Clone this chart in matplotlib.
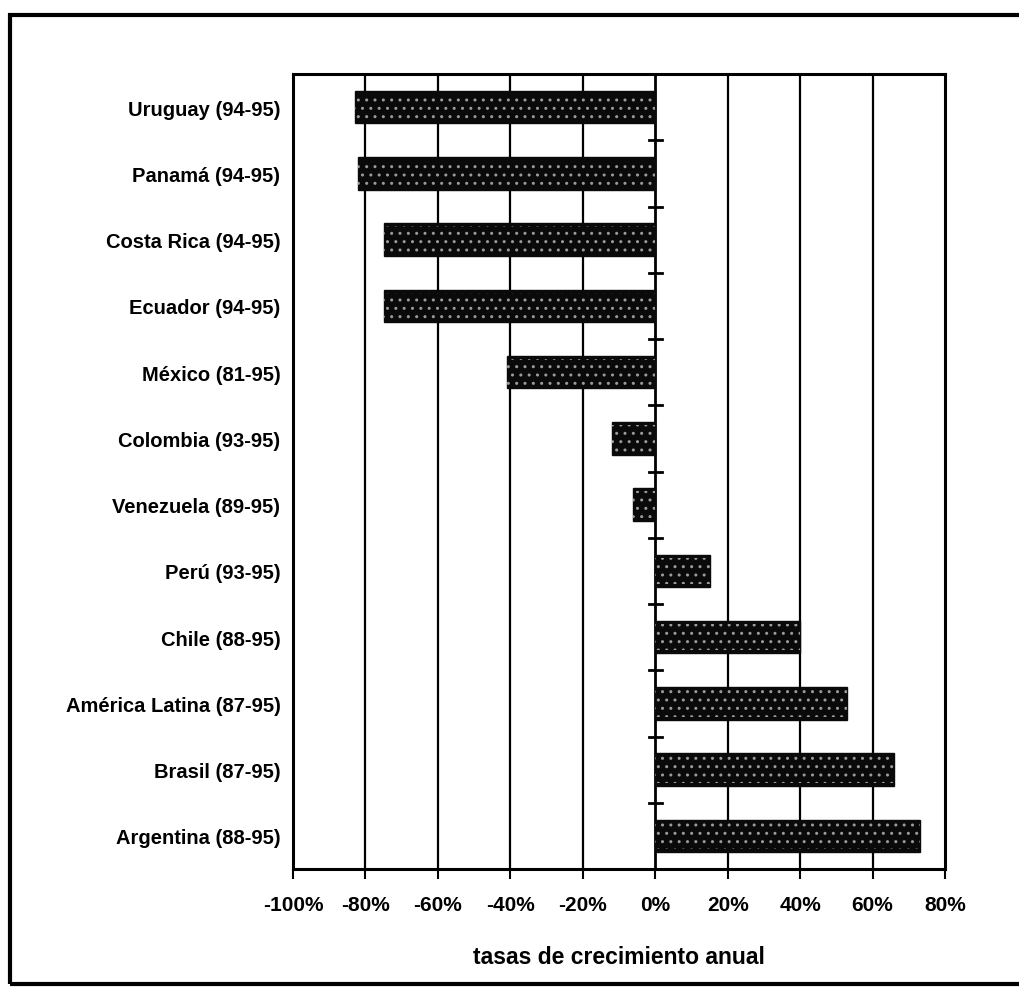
import matplotlib.pyplot as plt
from matplotlib.patches import Rectangle
from matplotlib.ticker import FuncFormatter

paises = ["Uruguay (94-95)", "Panamá (94-95)", "Costa Rica (94-95)",
          "Ecuador (94-95)", "México (81-95)", "Colombia (93-95)",
          "Venezuela (89-95)", "Perú (93-95)", "Chile (88-95)",
          "América Latina (87-95)", "Brasil (87-95)", "Argentina (88-95)"]
tasas = [-83, -82, -75, -75, -41, -12, -6, 15, 40, 53, 66, 73]
ticks_x = [-100, -80, -60, -40, -20, 0, 20, 40, 60, 80]

plt.rcParams['font.family'] = ['Liberation Sans', 'DejaVu Sans']
plt.rcParams['hatch.linewidth'] = 1.0

fig = plt.figure(figsize=(10.19, 9.95), dpi=100)
ax = fig.add_axes([293 / 1019, 1 - 870 / 995, (945 - 293) / 1019, (870 - 75) / 995])

pos = list(range(len(paises)))
ax.barh(pos, tasas, height=0.49, color='#0a0a0a', edgecolor='#0a0a0a',
        linewidth=1, zorder=3)
# textura granulada de las barras
ax.barh(pos, tasas, height=0.40, facecolor='none', edgecolor='#9a9a9a',
        hatch='..', linewidth=0, zorder=4)

ax.set_ylim(len(paises) - 0.5, -0.5)
ax.set_xlim(-100, 80)
ax.set_yticks(pos)
ax.set_yticklabels(paises, fontsize=14.5, fontweight='bold')
ax.tick_params(axis='y', length=0, pad=9)

ax.set_xticks(ticks_x)
ax.xaxis.set_major_formatter(FuncFormatter(lambda v, p: f"{v:.0f}%"))
ax.tick_params(axis='x', direction='out', length=7, width=1.5, labelsize=15, pad=12)
for lb in ax.get_xticklabels():
    lb.set_fontweight('bold')
ax.set_xlabel("tasas de crecimiento anual", fontsize=16.5, fontweight='bold', labelpad=22)

for v in ticks_x[1:-1]:
    ax.axvline(v, color='black', linewidth=2 if v == 0 else 1.6, zorder=2)

# marcas del eje de categorias sobre el 0%
for b in range(1, len(paises)):
    ax.plot([-1.8, 1.8], [b - 0.5, b - 0.5], color='black', linewidth=2, zorder=5)

for s in ax.spines.values():
    s.set_linewidth(2.2)

# marco exterior
fig.patches.append(Rectangle((10 / 1019, 1 - 985 / 995), 1.0, (985 - 16) / 995,
                             transform=fig.transFigure, fill=False,
                             edgecolor='black', linewidth=3))

fig.savefig("out.png", dpi=100)
